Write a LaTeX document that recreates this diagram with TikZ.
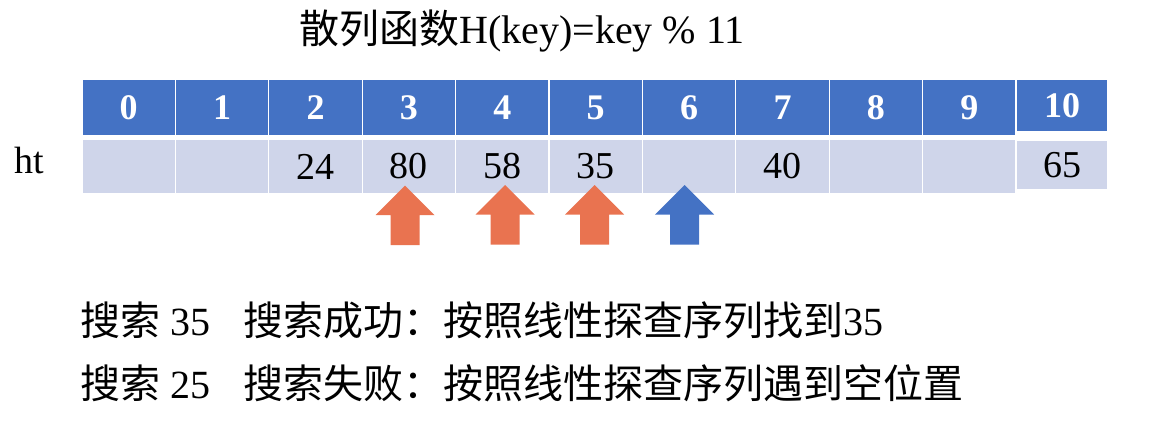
\documentclass[tikz,border=0pt]{standalone}
\usepackage{fontspec}
\setmainfont{Liberation Serif}
\newfontfamily\cjk{Noto Sans CJK SC}
\definecolor{hblue}{HTML}{4472C4}
\definecolor{dfill}{HTML}{CFD5EA}
\definecolor{aorange}{HTML}{E97350}
\tikzset{
  hcell/.style={fill=hblue, draw=white, line width=1.2pt, minimum width=93.4pt, minimum height=57pt, inner sep=0pt, text=white, font=\fontsize{36}{40}\selectfont\bfseries},
  dcell/.style={fill=dfill, draw=white, line width=1.2pt, minimum width=93.4pt, minimum height=55pt, inner sep=0pt, text=black, font=\fontsize{38}{42}\selectfont},
  lbl/.style={inner sep=0pt, font=\fontsize{40}{46}\selectfont},
  uparrow/.pic={\path[pic actions] (0,0) -- (29.5,29.5) -- (14.5,29.5) -- (14.5,59.5) -- (-14.5,59.5) -- (-14.5,29.5) -- (-29.5,29.5) -- cycle;}
}
\begin{document}
\begin{tikzpicture}[x=1pt,y=-1pt]
\useasboundingbox (0,0) rectangle (1154,423);
% title
\node[lbl, anchor=base] (title) at (522,43) {{\cjk 散列函数}H(key)=key \% 11};
% header row
\foreach \i in {0,...,9}{
  \node[hcell] (h\i) at ({82+93.4*\i+46.7},107.5) {\i};
}
\node[hcell, minimum width=92pt, minimum height=53pt] (h10) at (1062,105.5) {10};
% data row
\node[dcell] (d0) at ({82+46.7},166.5) {};
\node[dcell] (d1) at ({82+93.4+46.7},166.5) {};
\node[dcell] (d2) at ({82+93.4*2+46.7},166.5) {24};
\node[dcell] (d3) at ({82+93.4*3+46.7},166.5) {80};
\node[dcell] (d4) at ({82+93.4*4+46.7},166.5) {58};
\node[dcell] (d5) at ({82+93.4*5+46.7},166.5) {35};
\node[dcell] (d6) at ({82+93.4*6+46.7},166.5) {};
\node[dcell] (d7) at ({82+93.4*7+46.7},166.5) {40};
\node[dcell] (d8) at ({82+93.4*8+46.7},166.5) {};
\node[dcell] (d9) at ({82+93.4*9+46.7},166.5) {};
\node[dcell, minimum width=92pt, minimum height=50pt] (d10) at (1062,165) {65};
\node[inner sep=0pt, anchor=base west, font=\fontsize{38}{42}\selectfont] (ht) at (14,173) {ht};
% arrows
\pic[fill=aorange] at (405,185.7) {uparrow};
\pic[fill=aorange] at (505,185) {uparrow};
\pic[fill=aorange] at (594.5,185) {uparrow};
\pic[fill=hblue] at (684.5,185) {uparrow};
% bottom text
\node[lbl, anchor=base west] (s1) at (80,335) {{\cjk 搜索} 35};
\node[lbl, anchor=base west] (r1) at (243,335) {{\cjk 搜索成功：按照线性探查序列找到}35};
\node[lbl, anchor=base west] (s2) at (80,398) {{\cjk 搜索} 25};
\node[lbl, anchor=base west] (r2) at (243,398) {{\cjk 搜索失败：按照线性探查序列遇到空位置}};
\end{tikzpicture}
\end{document}
